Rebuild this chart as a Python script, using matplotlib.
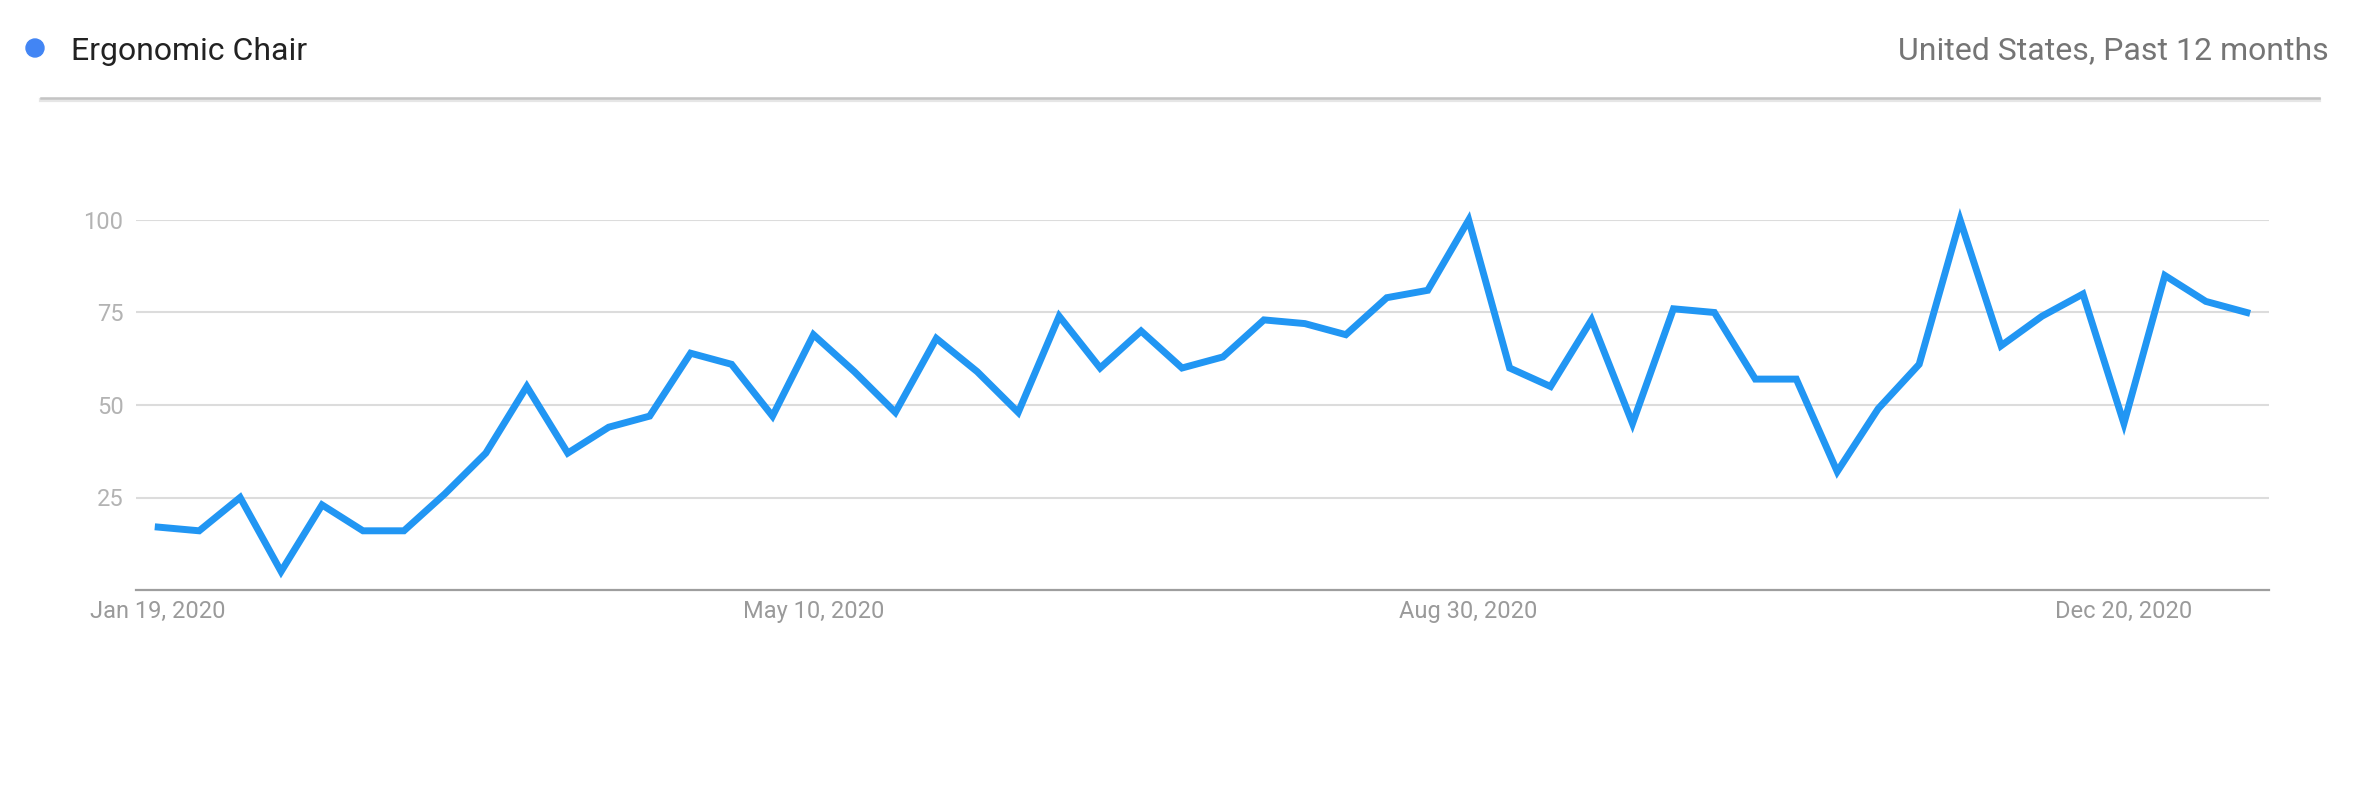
import pandas as pd
import matplotlib.pyplot as plt
from matplotlib.patches import Ellipse

plt.rcParams["font.family"] = ["Roboto", "DejaVu Sans"]

# weekly interest, Google Trends style export
weeks = pd.date_range("2020-01-19", periods=52, freq="7D")
interest = [17, 16, 25, 5, 23, 16, 16, 26, 37, 55, 37, 44, 47, 64, 61, 47,
            69, 59, 48, 68, 59, 48, 74, 60, 70, 60, 63, 73, 72, 69, 79, 81,
            100, 60, 55, 73, 45, 76, 75, 57, 57, 32, 49, 61, 100, 66, 74, 80,
            45, 85, 78, 75]

term = "Ergonomic Chair"
scope = "United States, Past 12 months"
ytick_vals = [25, 50, 75, 100]
xtick_dates = ["2020-01-19", "2020-05-10", "2020-08-30", "2020-12-20"]
xtick_labels = ["Jan 19, 2020", "May 10, 2020", "Aug 30, 2020", "Dec 20, 2020"]

W, H = 2364, 792
fig = plt.figure(figsize=(W / 100, H / 100), dpi=100)
ax = fig.add_axes([136 / W, 1 - 590 / H, (2269 - 136) / W, (590 - 220) / H])

ax.plot(weeks, interest, color="#2196F3", lw=5.0, solid_joinstyle="miter",
        clip_on=False, zorder=3)

pad = pd.Timedelta(days=3.8)
ax.set_xlim(weeks[0] - pad, weeks[-1] + pad)
ax.set_ylim(0, 100)

ax.set_yticks(ytick_vals)
ax.set_yticklabels([str(v) for v in ytick_vals])
ax.set_xticks(pd.to_datetime(xtick_dates))
ax.set_xticklabels(xtick_labels)
ax.tick_params(axis="y", length=0, pad=9, labelsize=17, labelcolor="#b3b3b3")
ax.tick_params(axis="x", length=0, pad=7, labelsize=17, labelcolor="#9a9a9a")

ax.grid(axis="y", color="#dcdcdc", lw=1.5)
ax.set_axisbelow(True)
for s in ["top", "right", "left"]:
    ax.spines[s].set_visible(False)
ax.spines["bottom"].set_color("#9e9e9e")
ax.spines["bottom"].set_linewidth(1.6)

# header
fig.patches.append(Ellipse((35 / W, 1 - 48 / H), 18 / W, 18 / H,
                           transform=fig.transFigure, color="#4285F4"))
fig.text(71 / W, 1 - 51 / H, term, fontsize=23, color="#222222",
         va="center", ha="left")
fig.text(2329 / W, 1 - 51 / H, scope, fontsize=23, color="#757575",
         va="center", ha="right")
fig.add_artist(plt.Line2D([41 / W, 2319 / W], [1 - 100 / H, 1 - 100 / H],
                          color="#e6e6e6", lw=3))
fig.add_artist(plt.Line2D([41 / W, 2319 / W], [1 - 98 / H, 1 - 98 / H],
                          color="#c4c4c4", lw=1.8))

plt.savefig("out.png", dpi=100, facecolor="white")
